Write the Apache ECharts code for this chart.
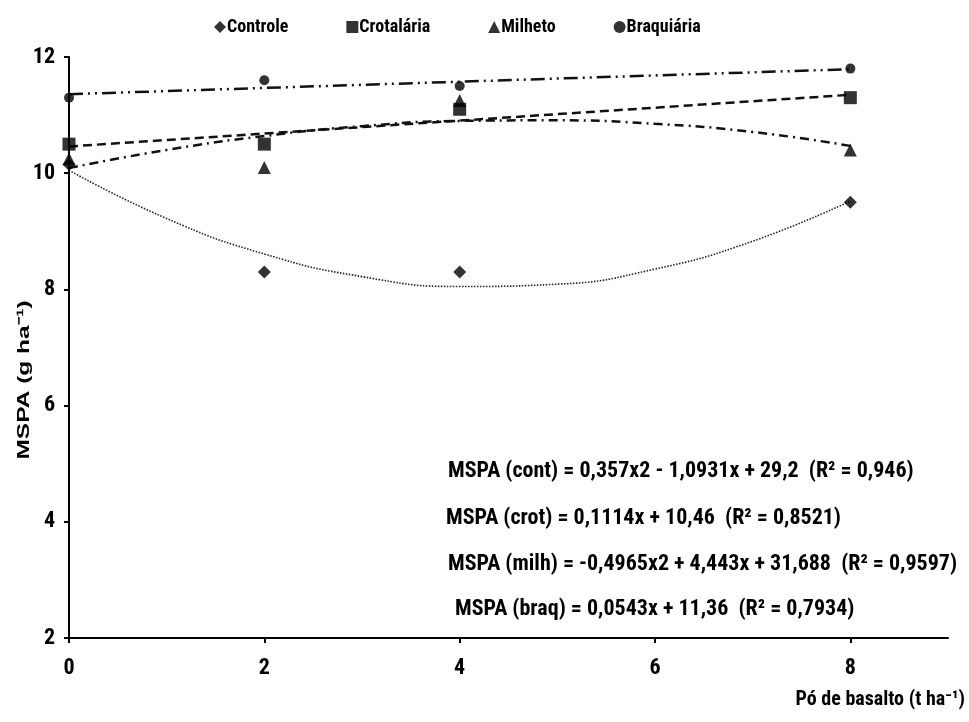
<!DOCTYPE html>
<html><head><meta charset="utf-8">
<script src="https://cdn.jsdelivr.net/npm/echarts@6/dist/echarts.min.js"></script>
<style>html,body{margin:0;padding:0;background:#fff}#c{width:969px;height:722px}</style>
</head><body><div id="c"></div>
<script>
var doses = [0, 2, 4, 8];
var controle = [10.15, 8.3, 8.3, 9.5];
var crotalaria = [10.5, 10.5, 11.1, 11.3];
var milheto = [10.25, 10.1, 11.25, 10.4];
var braquiaria = [11.3, 11.6, 11.5, 11.8];
// trend lines
var trendX = [0, 1, 2, 3, 4, 5, 6, 7, 8];
var trendControle = [10.05, 9.22, 8.61, 8.22, 8.05, 8.09, 8.35, 8.83, 9.52];
var trendMilheto = [10.09, 10.40, 10.64, 10.81, 10.90, 10.91, 10.85, 10.71, 10.47];
var trendCrotX = [0, 8];
var trendCrotalaria = [10.46, 11.35];
var trendBraqX = [0, 8];
var trendBraquiaria = [11.36, 11.79];
var xTicks = [0, 2, 4, 6, 8];
var equations = [
  'MSPA (cont) = 0,357x2 - 1,0931x + 29,2  (R² = 0,946)',
  'MSPA (crot) = 0,1114x + 10,46  (R² = 0,8521)',
  'MSPA (milh) = -0,4965x2 + 4,443x + 31,688  (R² = 0,9597)',
  'MSPA (braq) = 0,0543x + 11,36  (R² = 0,7934)'
];
var names = ['Controle', 'Crotalária', 'Milheto', 'Braquiária'];

var NARROW = '"Liberation Sans Narrow", "Arial Narrow", "Roboto Condensed", sans-serif';
function pairs(xs, ys) { return xs.map(function (x, i) { return [x, ys[i]]; }); }

var chart = echarts.init(document.getElementById('c'));
var eqPos = [[448, 470], [446, 517], [448, 563], [455, 608]];
chart.setOption({
  backgroundColor: '#fff',
  animation: false,
  grid: { left: 69, right: 21, top: 57, bottom: 84 },
  legend: {
    top: 13, left: 209, itemGap: 58, itemWidth: 12, itemHeight: 12,
    textStyle: { fontFamily: NARROW, fontWeight: 'bold', fontSize: 18, color: '#000', padding: [0, 0, 0, -4] },
    data: [
      { name: names[0], icon: 'diamond' },
      { name: names[1], icon: 'rect' },
      { name: names[2], icon: 'triangle' },
      { name: names[3], icon: 'circle' }
    ]
  },
  xAxis: {
    type: 'value', min: 0, max: 9, interval: 2,
    axisLine: { lineStyle: { color: '#000', width: 2 } },
    axisTick: { show: true, length: 5, customValues: xTicks, lineStyle: { color: '#000', width: 2 } },
    axisLabel: { customValues: xTicks, margin: 19, fontFamily: NARROW, fontWeight: 'bold', fontSize: 22, color: '#000' },
    splitLine: { show: false }
  },
  yAxis: {
    type: 'value', min: 2, max: 12, interval: 2,
    axisLine: { show: true, lineStyle: { color: '#000', width: 2 } },
    axisTick: { show: true, length: 5, lineStyle: { color: '#000', width: 2 } },
    axisLabel: { margin: 14, fontFamily: NARROW, fontWeight: 'bold', fontSize: 22, color: '#000' },
    splitLine: { show: false }
  },
  graphic: [
    { type: 'text', x: 24, y: 380, rotation: Math.PI / 2, scaleX: 1.44, scaleY: 1,
      style: { text: 'MSPA (g ha⁻¹)', font: 'bold 17px "Liberation Sans", Arial, sans-serif', fill: '#000',
        align: 'center', verticalAlign: 'middle' } },
    { type: 'text', right: 4, top: 690,
      style: { text: 'Pó de basalto (t ha⁻¹)', font: 'bold 20px ' + NARROW, fill: '#000' } }
  ].concat(equations.map(function (t, i) {
    return { type: 'text', left: eqPos[i][0], top: eqPos[i][1] - 10,
      style: { text: t, font: 'bold 22px ' + NARROW, fill: '#000' } };
  })),
  series: [
    { name: 'tC', type: 'line', data: pairs(trendX, trendControle), smooth: true, showSymbol: false, silent: true,
      lineStyle: { color: '#222', width: 1.6, type: [1.5, 1.5] }, z: 1 },
    { name: 'tR', type: 'line', data: pairs(trendCrotX, trendCrotalaria), showSymbol: false, silent: true,
      lineStyle: { color: '#111', width: 2.5, type: [9, 5] }, z: 1 },
    { name: 'tM', type: 'line', data: pairs(trendX, trendMilheto), smooth: true, showSymbol: false, silent: true,
      lineStyle: { color: '#111', width: 2.5, type: [9, 5, 2, 5] }, z: 1 },
    { name: 'tB', type: 'line', data: pairs(trendBraqX, trendBraquiaria), showSymbol: false, silent: true,
      lineStyle: { color: '#111', width: 2.5, type: [14, 5, 2, 5, 2, 5] }, z: 1 },
    { name: names[0], type: 'scatter', symbol: 'diamond', symbolSize: 13, data: pairs(doses, controle), itemStyle: { color: '#000' }, z: 3 },
    { name: names[1], type: 'scatter', symbol: 'rect', symbolSize: 13, data: pairs(doses, crotalaria), itemStyle: { color: '#000' }, z: 3 },
    { name: names[2], type: 'scatter', symbol: 'triangle', symbolSize: 13, data: pairs(doses, milheto), itemStyle: { color: '#000' }, z: 4 },
    { name: names[3], type: 'scatter', symbol: 'circle', symbolSize: 10, data: pairs(doses, braquiaria), itemStyle: { color: '#000' }, z: 3 }
  ]
});
</script></body></html>
